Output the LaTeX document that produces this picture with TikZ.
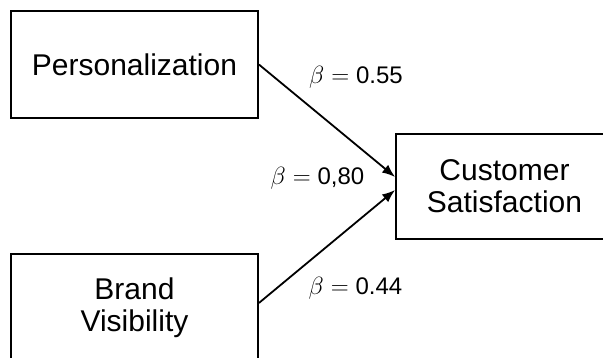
\documentclass[tikz,border=0pt]{standalone}
\usepackage{fontspec}
\setmainfont{Liberation Sans}
\usetikzlibrary{arrows.meta}
\begin{document}
\begin{tikzpicture}[x=1pt,y=1pt,
  box/.style={draw, line width=1.8pt, align=center, inner sep=0pt,
    font=\fontsize{30}{32}\selectfont},
  lab/.style={font=\fontsize{24}{26}\selectfont, inner sep=0pt},
  conn/.style={line width=1.8pt, -{Latex[length=13pt,width=10pt]}}]
\clip (0,0) rectangle (603,358);
\node[box, minimum width=247pt, minimum height=107pt] (p) at (134.5,293.5) {Personalization};
\node[box, minimum width=247pt, minimum height=107pt] (b) at (134.5,50.5) {Brand\\Visibility};
\node[box, minimum width=217pt, minimum height=105pt] (c) at (504.5,171.5) {Customer\\Satisfaction};
\draw[conn] (p.east) -- ([yshift=9.5pt]c.west);
\draw[conn] ([yshift=4.5pt]b.east) -- ([yshift=-3.5pt]c.west);
\node[lab] (l1) at (356,281) {$\beta={}$0.55};
\node[lab] (l2) at (317.5,180) {$\beta={}$0,80};
\node[lab] (l3) at (355.5,70) {$\beta={}$0.44};
\end{tikzpicture}
\end{document}
